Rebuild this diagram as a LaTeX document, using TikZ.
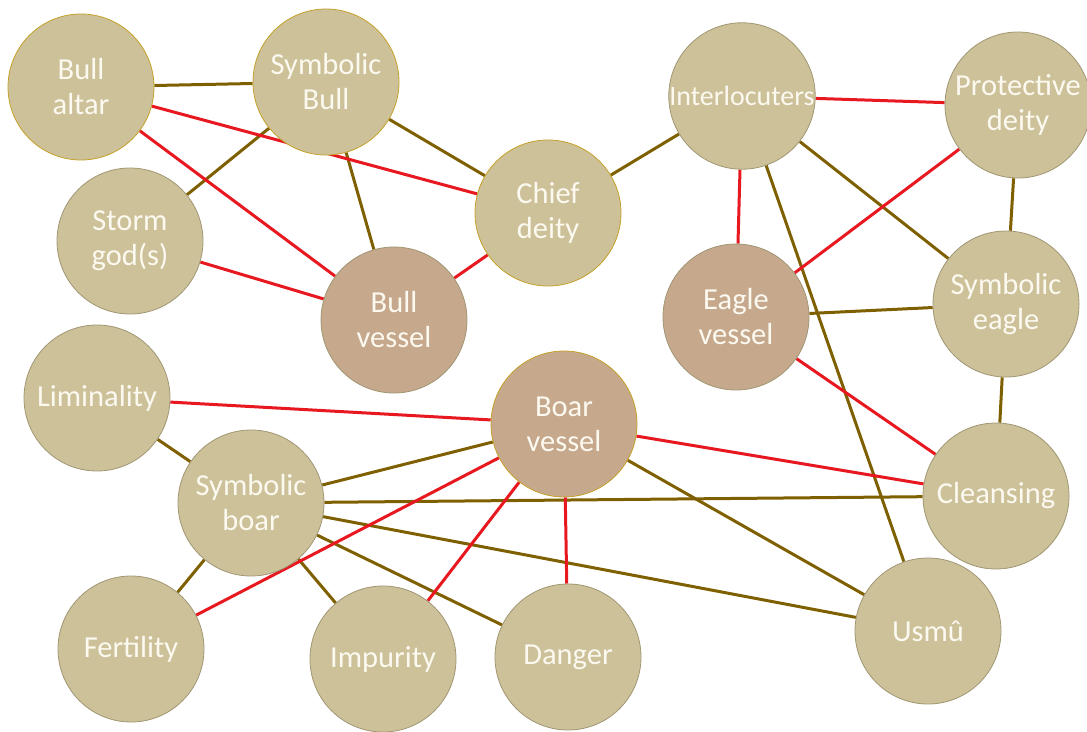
\documentclass[tikz,border=0pt]{standalone}
\usepackage{fontspec}
\setmainfont{Carlito}
\usetikzlibrary{backgrounds}
\definecolor{tanfill}{RGB}{205,193,153}
\definecolor{vesselfill}{RGB}{198,168,140}
\definecolor{rimgray}{RGB}{160,150,115}
\definecolor{rimgold}{RGB}{196,160,40}
\definecolor{olive}{RGB}{127,96,0}
\definecolor{linkred}{RGB}{232,24,32}
\definecolor{labeltext}{RGB}{252,249,240}
\tikzset{
  concept/.style={circle, minimum size=146pt, inner sep=0pt, fill=tanfill,
    draw=rimgray, line width=0.8pt, text=labeltext, align=center,
    font=\fontsize{30.5pt}{35pt}\selectfont},
  goldrim/.style={draw=rimgold},
  snug/.style={font=\fontsize{28pt}{34pt}\selectfont},
  vessel/.style={concept, fill=vesselfill},
  plain/.style={draw=olive, line width=3pt},
  redlink/.style={draw=linkred, line width=3pt}
}
\begin{document}
\begin{tikzpicture}[x=1pt,y=-1pt]
\useasboundingbox (0,0) rectangle (1087,731);
% concepts
\node[concept,goldrim] (altar) at (81,87) {Bull\\altar};
\node[concept,goldrim] (sbull) at (326,82) {Symbolic\\Bull};
\node[concept] (storm) at (130,241) {Storm\\god(s)};
\node[vessel] (bullv) at (394,320) {Bull\\vessel};
\node[concept,goldrim] (chief) at (548,213) {Chief\\deity};
\node[concept,snug] (inter) at (742,96) {Interlocuters};
\node[concept] (prot) at (1018,105) {Protective\\deity};
\node[vessel] (eaglev) at (736,317) {Eagle\\vessel};
\node[concept] (seagle) at (1006,304) {Symbolic\\eagle};
\node[concept] (limin) at (97,398) {Liminality};
\node[vessel,goldrim] (boarv) at (564,424) {Boar\\vessel};
\node[concept] (sboar) at (251,503) {Symbolic\\boar};
\node[concept] (clean) at (996,496) {Cleansing};
\node[concept] (usmu) at (928,631) {Usmû};
\node[concept] (fert) at (131,649) {Fertility};
\node[concept] (impur) at (383,659) {Impurity};
\node[concept] (danger) at (568,657) {Danger};
% links
\begin{scope}[on background layer]
\draw[plain] (altar) -- (sbull);
\draw[plain] (sbull) -- (storm);
\draw[plain] (sbull) -- (bullv);
\draw[plain] (sbull) -- (chief);
\draw[plain] (chief) -- (inter);
\draw[plain] (inter) -- (seagle);
\draw[plain] (inter) -- (usmu);
\draw[plain] (prot) -- (seagle);
\draw[plain] (eaglev) -- (seagle);
\draw[plain] (seagle) -- (clean);
\draw[plain] (limin) -- (sboar);
\draw[plain] (sboar) -- (boarv);
\draw[plain] (sboar) -- (clean);
\draw[plain] (sboar) -- (usmu);
\draw[plain] (sboar) -- (fert);
\draw[plain] (sboar) -- (impur);
\draw[plain] (sboar) -- (danger);
\draw[plain] (boarv) -- (usmu);
\draw[redlink] (altar) -- (chief);
\draw[redlink] (altar) -- (bullv);
\draw[redlink] (storm) -- (bullv);
\draw[redlink] (bullv) -- (chief);
\draw[redlink] (inter) -- (prot);
\draw[redlink] (inter) -- (eaglev);
\draw[redlink] (prot) -- (eaglev);
\draw[redlink] (eaglev) -- (clean);
\draw[redlink] (limin) -- (boarv);
\draw[redlink] (boarv) -- (clean);
\draw[redlink] (boarv) -- (fert);
\draw[redlink] (boarv) -- (impur);
\draw[redlink] (boarv) -- (danger);
\end{scope}
\end{tikzpicture}
\end{document}
